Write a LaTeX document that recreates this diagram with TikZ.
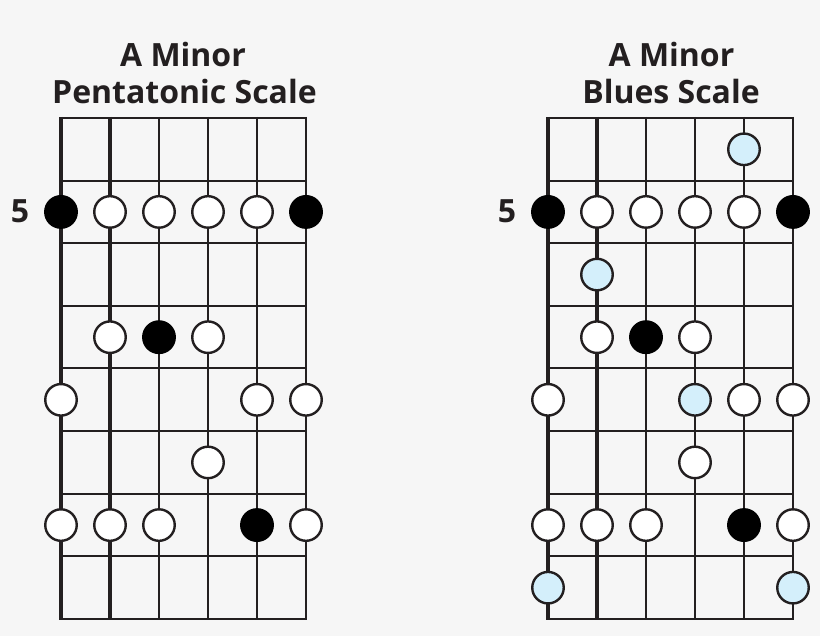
\documentclass[tikz,border=0pt]{standalone}
\usepackage{fontspec}
\setmainfont{Open Sans}
\definecolor{bg}{HTML}{F6F6F6}
\definecolor{ink}{HTML}{231F20}
\definecolor{blue}{HTML}{D4EFFB}
\tikzset{
  fret/.style={draw=ink, line width=2pt},
  dotw/.style={circle, draw=ink, line width=2.4pt, fill=white, minimum size=31.5pt, inner sep=0pt},
  dotb/.style={dotw, fill=black, draw=black},
  dotl/.style={dotw, fill=blue},
  ttl/.style={font=\bfseries\fontsize{32}{36}\selectfont, text=ink, anchor=base, inner sep=0pt},
  fretnum/.style={font=\bfseries\fontsize{32}{36}\selectfont, text=ink, anchor=base, inner sep=0pt}
}
\newcommand{\fretgrid}[2]{%
  \foreach \k in {0,...,8} {\draw[fret] (#1-1,{118+\k*62.625}) -- (#1+246,{118+\k*62.625});}
  \foreach \s/\w in {0/4,1/3.4,2/2.9,3/2.5,4/2.2,5/2} {\draw[draw=ink, line width=\w pt] ({#1+\s*49},117) -- ({#1+\s*49},620);}
}
\begin{document}
\begin{tikzpicture}[x=1pt,y=-1pt]
\fill[bg] (0,0) rectangle (820,636);
\useasboundingbox (0,0) rectangle (820,636);
% titles
\node[ttl] (t1a) at (183,67) {A Minor};
\node[ttl] (t1b) at (184.5,104) {Pentatonic Scale};
\node[ttl] (t2a) at (671.5,67) {A Minor};
\node[ttl] (t2b) at (671,104) {Blues Scale};
\node[fretnum] (n1) at (20,223) {5};
\node[fretnum] (n2) at (507,223) {5};
% grids
\fretgrid{61}{L}
\fretgrid{548}{R}
% left dots
\foreach \s/\r/\st [count=\i] in {0/2/dotb,1/2/dotw,2/2/dotw,3/2/dotw,4/2/dotw,5/2/dotb,
  1/4/dotw,2/4/dotb,3/4/dotw,
  0/5/dotw,4/5/dotw,5/5/dotw,
  3/6/dotw,
  0/7/dotw,1/7/dotw,2/7/dotw,4/7/dotb,5/7/dotw}
  {\node[\st] (l\i) at ({61+\s*49},{118+(\r-0.5)*62.625}) {};}
% right dots
\foreach \s/\r/\st [count=\i] in {4/1/dotl,
  0/2/dotb,1/2/dotw,2/2/dotw,3/2/dotw,4/2/dotw,5/2/dotb,
  1/3/dotl,
  1/4/dotw,2/4/dotb,3/4/dotw,
  0/5/dotw,3/5/dotl,4/5/dotw,5/5/dotw,
  3/6/dotw,
  0/7/dotw,1/7/dotw,2/7/dotw,4/7/dotb,5/7/dotw,
  0/8/dotl,5/8/dotl}
  {\node[\st] (r\i) at ({548+\s*49},{118+(\r-0.5)*62.625}) {};}
\end{tikzpicture}
\end{document}
